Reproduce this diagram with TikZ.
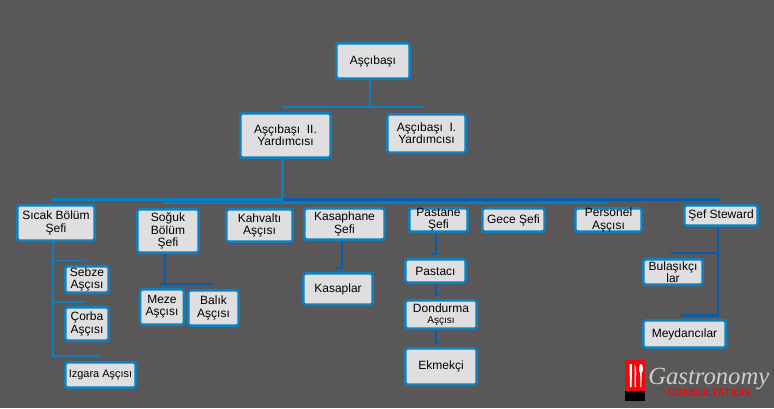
\documentclass[tikz,border=0pt]{standalone}
\usepackage{fontspec}
\setmainfont{Liberation Sans}
\newfontfamily\logofont{Liberation Serif}
\usetikzlibrary{calc}
\definecolor{wallgray}{RGB}{89,87,88}
\definecolor{boxfill}{RGB}{224,223,224}
\definecolor{linkblue}{RGB}{14,128,192}
\definecolor{deepblue}{RGB}{10,92,168}
\definecolor{logored}{RGB}{237,10,14}
\definecolor{logogray}{RGB}{205,205,205}
\tikzset{
  chefbox/.style={draw=linkblue,fill=boxfill,line width=1.9pt,rounded corners=2pt,inner sep=0pt,align=center,text=black,font=\fontsize{9}{9.2}\selectfont},
  uplink/.style={color=linkblue,line width=1.7pt},
  lowlink/.style={color=deepblue,line width=1.7pt},
  thinlink/.style={color=linkblue,line width=1.1pt},
}
\begin{document}
\begin{tikzpicture}[x=0.75pt,y=0.75pt,yscale=-1,xscale=1]
\useasboundingbox (0,0) rectangle (774,408);
\fill [wallgray] (0,0) rectangle (774,408);

% Top boxes
\node (boss) [chefbox,minimum width=73.5*0.75pt,minimum height=35.5*0.75pt] at (373,61) {Aşçıbaşı};
\node (second) [chefbox,minimum width=90.5*0.75pt,minimum height=44.5*0.75pt] at (285.5,135.5) {Aşçıbaşı \ II.\\Yardımcısı};
\node (first) [chefbox,minimum width=78.5*0.75pt,minimum height=38.5*0.75pt] at (426.5,133.5) {Aşçıbaşı \ I.\\Yardımcısı};

% Section chiefs
\node (sicak) [chefbox,minimum width=77.5*0.75pt,minimum height=35.5*0.75pt] at (56,223) {Sıcak Bölüm\\[1pt]Şefi};
\node (soguk) [chefbox,minimum width=61.5*0.75pt,minimum height=43.5*0.75pt] at (168,231) {Soğuk\\Bölüm\\Şefi};
\node (kahvalti) [chefbox,minimum width=66.5*0.75pt,minimum height=32.5*0.75pt] at (259.5,225.5) {Kahvaltı\\Aşçısı};
\node (kasaphane) [chefbox,minimum width=80.5*0.75pt,minimum height=31.5*0.75pt] at (344.5,224) {Kasaphane\\Şefi};
\node (pastane) [chefbox,minimum width=58.5*0.75pt,minimum height=23.5*0.75pt] at (438.5,220) {Pastane\\Şefi};
\node (gece) [chefbox,minimum width=62.5*0.75pt,minimum height=23.5*0.75pt] at (513.5,220) {Gece Şefi};
\node (personel) [chefbox,minimum width=66.5*0.75pt,minimum height=23.5*0.75pt] at (608.5,220) {Personel\\Aşçısı};
\node (steward) [chefbox,minimum width=73.5*0.75pt,minimum height=20.5*0.75pt] at (721,215.5) {Şef Steward};

% Cooks
\node (sebze) [chefbox,minimum width=43.5*0.75pt,minimum height=26.5*0.75pt] at (87,279.5) {Sebze\\Aşçısı};
\node (corba) [chefbox,minimum width=43.5*0.75pt,minimum height=33.5*0.75pt] at (87,324) {Çorba\\Aşçısı};
\node (izgara) [chefbox,minimum width=70.5*0.75pt,minimum height=25.5*0.75pt,font=\fontsize{8.2}{9}\selectfont] at (100.5,375) {Izgara Aşçısı};
\node (meze) [chefbox,minimum width=44*0.75pt,minimum height=35.5*0.75pt] at (162,307) {Meze\\Aşçısı};
\node (balik) [chefbox,minimum width=50.5*0.75pt,minimum height=35.5*0.75pt] at (213.5,308) {Balık\\Aşçısı};
\node (kasaplar) [chefbox,minimum width=69.5*0.75pt,minimum height=31.5*0.75pt] at (338,289) {Kasaplar};
\node (pastaci) [chefbox,minimum width=60.5*0.75pt,minimum height=23.5*0.75pt] at (435.5,271) {Pastacı};
\node (dondurma) [chefbox,minimum width=71.5*0.75pt,minimum height=28.5*0.75pt] at (441,314.5) {Dondurma\\[-1pt]{\fontsize{7.5}{8}\selectfont Aşçısı}};
\node (ekmekci) [chefbox,minimum width=71.5*0.75pt,minimum height=36.5*0.75pt] at (441,366.5) {Ekmekçi};
\node (bulasik) [chefbox,minimum width=59.5*0.75pt,minimum height=25.5*0.75pt] at (673,272) {Bulaşıkçı\\lar};
\node (meydan) [chefbox,minimum width=82.5*0.75pt,minimum height=27.5*0.75pt] at (684.5,334) {Meydancılar};

% Free ends of the lines
\coordinate (topjoin) at (370,107);
\coordinate (topleft) at (282,107);
\coordinate (topright) at (424,107);
\coordinate (busjoin) at (282.5,199.5);
\coordinate (busleft) at (52,199.5);
\coordinate (busright) at (719,199.5);
\coordinate (lowjoin) at (282.5,203);
\coordinate (lowleft) at (164,203);
\coordinate (lowright) at (607,203);
\coordinate (hotfoot) at (53,356);
\coordinate (hotone) at (53,260.5);
\coordinate (hotoneend) at (85,260.5);
\coordinate (hottwo) at (53,302);
\coordinate (hottwoend) at (85,302);
\coordinate (hotfootend) at (99,356);
\coordinate (coldjoin) at (165,284);
\coordinate (coldleft) at (159,284);
\coordinate (coldright) at (212,284);
\coordinate (butcherfoot) at (342,268);
\coordinate (butcherend) at (335,268);
\coordinate (pastryfoot) at (436,254);
\coordinate (pastryend) at (432,254);
\coordinate (iceknee) at (436,295);
\coordinate (iceend) at (439,295);
\coordinate (breadknee) at (436,343);
\coordinate (breadend) at (439,343);
\coordinate (stewone) at (718,253);
\coordinate (stewoneend) at (670,253);
\coordinate (stewfoot) at (718,315.5);
\coordinate (stewfootend) at (681,315.5);

% Lines
\draw [uplink] (boss.south -| topjoin) -- (topjoin);
\draw [thinlink] (topleft) -- (topright);
\draw [uplink] (second.south -| busjoin) -- (lowjoin);
\draw [uplink] (busleft) -- (busjoin);
\draw [lowlink] (busjoin) -- (busright);
\draw [uplink] (lowleft) -- (lowright);
\draw [uplink] (sicak.south -| hotfoot) -- (hotfoot) -- (hotfootend);
\draw [thinlink] (hotone) -- (hotoneend);
\draw [thinlink] (hottwo) -- (hottwoend);
\draw [lowlink] (soguk.south -| coldjoin) -- (coldjoin);
\draw [lowlink] (coldleft) -- (coldright);
\draw [lowlink] (kasaphane.south -| butcherfoot) -- (butcherfoot) -- (butcherend);
\draw [lowlink] (pastane.south -| pastryfoot) -- (pastryfoot) -- (pastryend);
\draw [lowlink] (pastaci.south -| iceknee) -- (iceknee) -- (iceend);
\draw [lowlink] (dondurma.south -| breadknee) -- (breadknee) -- (breadend);
\draw [lowlink] (steward.south -| stewfoot) -- (stewfoot) -- (stewfootend);
\draw [color=deepblue,line width=1pt] (stewone) -- (stewoneend);

% Logo
\fill [logored] (625,360) rectangle (645,391);
\fill [black] (625,391) rectangle (645,401);
\fill [white] (629.5,364) -- (632,364) -- (631.6,387) -- (630,387) -- cycle;
\fill [white] (634.5,364) .. controls (636.5,368) and (636.5,374) .. (636,376) -- (635.8,387) -- (634.5,387) -- cycle;
\fill [white] (641,364) .. controls (643.5,364) and (643.5,372) .. (641.6,373) -- (641.4,387) -- (640.4,387) -- (640.2,373) .. controls (638.5,372) and (638.5,364) .. (641,364) -- cycle;
\node (gastro) [anchor=base west,inner sep=0pt,text=logogray,font=\logofont\itshape\fontsize{18.5}{18.5}\selectfont] at (648,384) {Gastronomy};
\node (consult) [anchor=base west,inner sep=0pt,text=logored,font=\bfseries\fontsize{8}{8}\selectfont] at (667,396.5) {CONSULTATION};

\end{tikzpicture}
\end{document}
